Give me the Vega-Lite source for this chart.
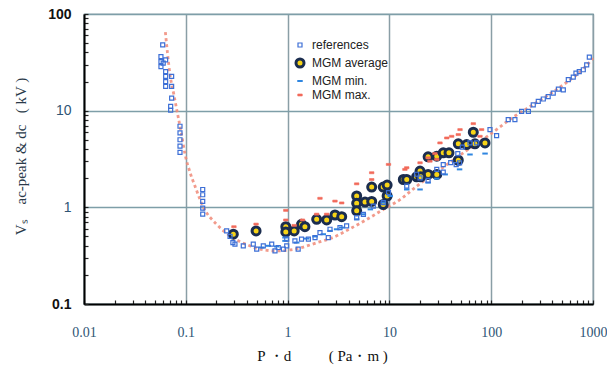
{
  "$schema": "https://vega.github.io/schema/vega-lite/v6.json",
  "width": 509,
  "height": 290,
  "autosize": {"type": "none"},
  "padding": {"left": 84, "top": 14, "right": 14, "bottom": 64},
  "background": "#ffffff",
  "config": {
    "view": {"stroke": "#4a6a78", "strokeWidth": 1.2},
    "axis": {"domainColor": "#000000", "domainWidth": 2, "tickColor": "#222222", "tickWidth": 1.2}
  },
  "datasets": {
    "curve": [
      {"x": 0.063, "y": 65}, {"x": 0.066, "y": 40}, {"x": 0.07, "y": 23.5}, {"x": 0.076, "y": 15},
      {"x": 0.082, "y": 9.9}, {"x": 0.09, "y": 6}, {"x": 0.098, "y": 3.6}, {"x": 0.11, "y": 2.3},
      {"x": 0.123, "y": 1.66}, {"x": 0.149, "y": 1.0}, {"x": 0.2, "y": 0.67}, {"x": 0.27, "y": 0.51},
      {"x": 0.4, "y": 0.41}, {"x": 0.53, "y": 0.37}, {"x": 0.78, "y": 0.354}, {"x": 1.0, "y": 0.36},
      {"x": 1.32, "y": 0.38}, {"x": 1.93, "y": 0.43}, {"x": 2.82, "y": 0.49}, {"x": 4.1, "y": 0.6},
      {"x": 6, "y": 0.75}, {"x": 8.7, "y": 0.95}, {"x": 12.7, "y": 1.2}, {"x": 18.5, "y": 1.65},
      {"x": 27, "y": 2.2}, {"x": 39, "y": 2.9}, {"x": 60, "y": 4.0}, {"x": 97, "y": 5.66},
      {"x": 160, "y": 8.4}, {"x": 250, "y": 11.3}, {"x": 400, "y": 15.5}, {"x": 600, "y": 21},
      {"x": 800, "y": 27}, {"x": 1000, "y": 35}
    ],
    "pts": [
      {"s": "references", "x": 0.0593, "y": 47.9}, {"s": "references", "x": 0.057, "y": 36.3},
      {"s": "references", "x": 0.057, "y": 32.2}, {"s": "references", "x": 0.057, "y": 28.6},
      {"s": "references", "x": 0.060, "y": 31}, {"s": "references", "x": 0.0634, "y": 33.6},
      {"s": "references", "x": 0.0634, "y": 25.4}, {"s": "references", "x": 0.0634, "y": 22.6},
      {"s": "references", "x": 0.0634, "y": 20}, {"s": "references", "x": 0.0634, "y": 17.8},
      {"s": "references", "x": 0.0726, "y": 22.6}, {"s": "references", "x": 0.0726, "y": 17.8},
      {"s": "references", "x": 0.0726, "y": 13.5}, {"s": "references", "x": 0.071, "y": 11.1},
      {"s": "references", "x": 0.071, "y": 10.1}, {"s": "references", "x": 0.0877, "y": 6.9},
      {"s": "references", "x": 0.0877, "y": 5.9}, {"s": "references", "x": 0.0877, "y": 5.0},
      {"s": "references", "x": 0.0877, "y": 4.3}, {"s": "references", "x": 0.0877, "y": 3.7},
      {"s": "references", "x": 0.1466, "y": 1.53}, {"s": "references", "x": 0.1466, "y": 1.35},
      {"s": "references", "x": 0.1466, "y": 1.15}, {"s": "references", "x": 0.1466, "y": 0.98},
      {"s": "references", "x": 0.1466, "y": 0.85}, {"s": "references", "x": 0.252, "y": 0.57},
      {"s": "references", "x": 0.272, "y": 0.5}, {"s": "references", "x": 0.304, "y": 0.416},
      {"s": "references", "x": 0.367, "y": 0.4}, {"s": "references", "x": 0.29, "y": 0.432},
      {"s": "references", "x": 0.46, "y": 0.416}, {"s": "references", "x": 0.497, "y": 0.369},
      {"s": "references", "x": 0.577, "y": 0.4}, {"s": "references", "x": 0.698, "y": 0.416},
      {"s": "references", "x": 0.752, "y": 0.354}, {"s": "references", "x": 0.81, "y": 0.384},
      {"s": "references", "x": 0.91, "y": 0.369}, {"s": "references", "x": 0.98, "y": 0.4},
      {"s": "references", "x": 0.98, "y": 0.468}, {"s": "references", "x": 1.18, "y": 0.45},
      {"s": "references", "x": 1.27, "y": 0.369}, {"s": "references", "x": 1.37, "y": 0.468},
      {"s": "references", "x": 1.6, "y": 0.468}, {"s": "references", "x": 1.86, "y": 0.487},
      {"s": "references", "x": 2.08, "y": 0.548}, {"s": "references", "x": 2.51, "y": 0.487},
      {"s": "references", "x": 2.61, "y": 0.593}, {"s": "references", "x": 3.27, "y": 0.618},
      {"s": "references", "x": 3.8, "y": 0.642}, {"s": "references", "x": 4.77, "y": 0.784},
      {"s": "references", "x": 5.55, "y": 0.847}, {"s": "references", "x": 6.95, "y": 1.03},
      {"s": "references", "x": 8.71, "y": 1.12}, {"s": "references", "x": 9.8, "y": 1.42},
      {"s": "references", "x": 14.8, "y": 1.66}, {"s": "references", "x": 20, "y": 2.02},
      {"s": "references", "x": 18.5, "y": 2.2}, {"s": "references", "x": 24, "y": 1.9},
      {"s": "references", "x": 29.2, "y": 2.47}, {"s": "references", "x": 33.8, "y": 2.77},
      {"s": "references", "x": 33.8, "y": 2.31}, {"s": "references", "x": 40, "y": 2.9},
      {"s": "references", "x": 45.3, "y": 2.77}, {"s": "references", "x": 48.9, "y": 2.89},
      {"s": "references", "x": 47, "y": 3.6}, {"s": "references", "x": 52, "y": 4.2},
      {"s": "references", "x": 61.9, "y": 4.64}, {"s": "references", "x": 72, "y": 4.64},
      {"s": "references", "x": 97.3, "y": 6.37}, {"s": "references", "x": 113, "y": 5.53},
      {"s": "references", "x": 147, "y": 8.08}, {"s": "references", "x": 171, "y": 8.08},
      {"s": "references", "x": 199, "y": 9.84}, {"s": "references", "x": 232, "y": 9.84},
      {"s": "references", "x": 259, "y": 11.5}, {"s": "references", "x": 290, "y": 12.5},
      {"s": "references", "x": 325, "y": 13.2}, {"s": "references", "x": 363, "y": 14},
      {"s": "references", "x": 407, "y": 15.2}, {"s": "references", "x": 457, "y": 16.7},
      {"s": "references", "x": 511, "y": 16.4}, {"s": "references", "x": 572, "y": 20.9},
      {"s": "references", "x": 640, "y": 22.2}, {"s": "references", "x": 680, "y": 24.5},
      {"s": "references", "x": 733, "y": 25.4}, {"s": "references", "x": 803, "y": 26.5},
      {"s": "references", "x": 867, "y": 29.8}, {"s": "references", "x": 920, "y": 35.8},
      {"s": "MGM max.", "x": 0.297, "y": 0.63}, {"s": "MGM max.", "x": 0.49, "y": 0.67},
      {"s": "MGM max.", "x": 0.96, "y": 0.93}, {"s": "MGM max.", "x": 0.96, "y": 0.74},
      {"s": "MGM max.", "x": 1.16, "y": 0.65}, {"s": "MGM max.", "x": 1.4, "y": 0.74},
      {"s": "MGM max.", "x": 2.08, "y": 1.24}, {"s": "MGM max.", "x": 1.93, "y": 0.85},
      {"s": "MGM max.", "x": 2.42, "y": 0.85}, {"s": "MGM max.", "x": 2.92, "y": 1.16},
      {"s": "MGM max.", "x": 3.4, "y": 1.11}, {"s": "MGM max.", "x": 4.77, "y": 1.75},
      {"s": "MGM max.", "x": 6.7, "y": 1.94}, {"s": "MGM max.", "x": 9.8, "y": 2.78},
      {"s": "MGM max.", "x": 6.7, "y": 2.28}, {"s": "MGM max.", "x": 14.8, "y": 2.57},
      {"s": "MGM max.", "x": 20, "y": 2.89}, {"s": "MGM max.", "x": 24, "y": 3.25},
      {"s": "MGM max.", "x": 28, "y": 3.6}, {"s": "MGM max.", "x": 14.2, "y": 2.47},
      {"s": "MGM max.", "x": 25, "y": 3.0}, {"s": "MGM max.", "x": 29.2, "y": 3.13},
      {"s": "MGM max.", "x": 31.4, "y": 4.64}, {"s": "MGM max.", "x": 36.6, "y": 5.22},
      {"s": "MGM max.", "x": 40.9, "y": 5.43}, {"s": "MGM max.", "x": 47.5, "y": 5.66},
      {"s": "MGM max.", "x": 49.4, "y": 6.37}, {"s": "MGM max.", "x": 66.7, "y": 7.34},
      {"s": "MGM max.", "x": 77.6, "y": 5.43}, {"s": "MGM max.", "x": 80.5, "y": 6.37},
      {"s": "MGM min.", "x": 0.557, "y": 0.384}, {"s": "MGM min.", "x": 0.647, "y": 0.4},
      {"s": "MGM min.", "x": 0.781, "y": 0.394}, {"s": "MGM min.", "x": 0.943, "y": 0.487},
      {"s": "MGM min.", "x": 0.943, "y": 0.45}, {"s": "MGM min.", "x": 1.23, "y": 0.432},
      {"s": "MGM min.", "x": 1.54, "y": 0.475}, {"s": "MGM min.", "x": 1.86, "y": 0.5},
      {"s": "MGM min.", "x": 2.24, "y": 0.527}, {"s": "MGM min.", "x": 2.61, "y": 0.57},
      {"s": "MGM min.", "x": 3.03, "y": 0.593}, {"s": "MGM min.", "x": 3.4, "y": 0.617},
      {"s": "MGM min.", "x": 4.77, "y": 0.752}, {"s": "MGM min.", "x": 5.55, "y": 0.847},
      {"s": "MGM min.", "x": 6.5, "y": 0.953}, {"s": "MGM min.", "x": 8.71, "y": 1.12},
      {"s": "MGM min.", "x": 10.2, "y": 1.31}, {"s": "MGM min.", "x": 14.8, "y": 1.53},
      {"s": "MGM min.", "x": 20, "y": 1.53}, {"s": "MGM min.", "x": 24, "y": 1.8},
      {"s": "MGM min.", "x": 29.2, "y": 1.98}, {"s": "MGM min.", "x": 35.3, "y": 2.19},
      {"s": "MGM min.", "x": 48.9, "y": 2.47}, {"s": "MGM min.", "x": 61.9, "y": 3.52},
      {"s": "MGM min.", "x": 87, "y": 3.6},
      {"s": "MGM average", "x": 0.293, "y": 0.527}, {"s": "MGM average", "x": 0.49, "y": 0.57},
      {"s": "MGM average", "x": 0.96, "y": 0.63}, {"s": "MGM average", "x": 0.96, "y": 0.556},
      {"s": "MGM average", "x": 1.16, "y": 0.57}, {"s": "MGM average", "x": 1.37, "y": 0.668},
      {"s": "MGM average", "x": 1.48, "y": 0.63}, {"s": "MGM average", "x": 1.93, "y": 0.752},
      {"s": "MGM average", "x": 2.42, "y": 0.74}, {"s": "MGM average", "x": 2.92, "y": 0.833},
      {"s": "MGM average", "x": 3.4, "y": 0.8}, {"s": "MGM average", "x": 4.77, "y": 1.31},
      {"s": "MGM average", "x": 4.77, "y": 1.1}, {"s": "MGM average", "x": 4.77, "y": 0.92},
      {"s": "MGM average", "x": 5.76, "y": 1.135}, {"s": "MGM average", "x": 6.7, "y": 1.15},
      {"s": "MGM average", "x": 6.7, "y": 1.62}, {"s": "MGM average", "x": 8.7, "y": 1.62},
      {"s": "MGM average", "x": 9.5, "y": 1.7}, {"s": "MGM average", "x": 9.5, "y": 1.31},
      {"s": "MGM average", "x": 8.7, "y": 1.07}, {"s": "MGM average", "x": 13.7, "y": 1.94},
      {"s": "MGM average", "x": 14.8, "y": 1.94}, {"s": "MGM average", "x": 20, "y": 2.19},
      {"s": "MGM average", "x": 24, "y": 2.19}, {"s": "MGM average", "x": 29.2, "y": 2.19},
      {"s": "MGM average", "x": 18.5, "y": 2.07}, {"s": "MGM average", "x": 20, "y": 2.37},
      {"s": "MGM average", "x": 20.3, "y": 2.07}, {"s": "MGM average", "x": 24, "y": 3.33},
      {"s": "MGM average", "x": 29.2, "y": 3.38}, {"s": "MGM average", "x": 33.8, "y": 3.66},
      {"s": "MGM average", "x": 38.5, "y": 3.66}, {"s": "MGM average", "x": 47.5, "y": 4.54},
      {"s": "MGM average", "x": 57.4, "y": 4.46}, {"s": "MGM average", "x": 69.2, "y": 4.54},
      {"s": "MGM average", "x": 66.7, "y": 5.98}, {"s": "MGM average", "x": 47.5, "y": 3.07},
      {"s": "MGM average", "x": 86.9, "y": 4.64}
    ]
  },
  "layer": [
    {
      "data": {"name": "curve"},
      "mark": {"type": "line", "color": "#f08a78", "strokeWidth": 2.8, "strokeDash": [3, 3], "interpolate": "monotone", "opacity": 0.85},
      "encoding": {
        "x": {
          "field": "x", "type": "quantitative",
          "scale": {"type": "log", "domain": [0.01, 1000], "nice": false},
          "axis": {
            "values": [0.01,0.02,0.03,0.04,0.05,0.06,0.07,0.08,0.09,0.1,0.2,0.3,0.4,0.5,0.6,0.7,0.8,0.9,1,2,3,4,5,6,7,8,9,10,20,30,40,50,60,70,80,90,100,200,300,400,500,600,700,800,900,1000],
            "format": "~g",
            "labelExpr": "abs(log(datum.value)/LN10 - round(log(datum.value)/LN10)) < 1e-6 ? datum.label : ''",
            "grid": true,
            "gridColor": "#8a9ea6",
            "gridWidth": 1.5,
            "gridOpacity": {"condition": {"test": "abs(log(datum.value)/LN10 - round(log(datum.value)/LN10)) < 1e-6", "value": 1}, "value": 0},
            "tickSize": -4,
            "labelPadding": 25,
            "labelFont": "Liberation Serif",
            "labelFontSize": 14,
            "labelColor": "#2f5575",
            "labelFlush": false,
            "title": "P \u30fbd\u2003\u2003\u00a0\u00a0( Pa\u30fbm )",
            "titleFont": "Liberation Serif",
            "titleFontSize": 15,
            "titleFontWeight": "normal",
            "titleColor": "#111111",
            "titleX": 238,
            "titleAlign": "center",
            "titleY": 51,
            "titleBaseline": "middle"
          }
        },
        "y": {
          "field": "y", "type": "quantitative",
          "scale": {"type": "log", "domain": [0.1, 100], "nice": false},
          "axis": {
            "values": [0.1,0.2,0.3,0.4,0.5,0.6,0.7,0.8,0.9,1,2,3,4,5,6,7,8,9,10,20,30,40,50,60,70,80,90,100],
            "format": "~g",
            "labelExpr": "abs(log(datum.value)/LN10 - round(log(datum.value)/LN10)) < 1e-6 ? datum.label : ''",
            "grid": true,
            "gridColor": "#7e9ea8",
            "gridWidth": 1.5,
            "gridOpacity": {"condition": {"test": "abs(log(datum.value)/LN10 - round(log(datum.value)/LN10)) < 1e-6", "value": 1}, "value": 0},
            "tickSize": -4,
            "labelPadding": 17,
            "labelFont": "Liberation Sans",
            "labelFontSize": 14,
            "labelFontWeight": {"condition": {"test": "datum.value == 10 || datum.value == 1", "value": "normal"}, "value": "bold"},
            "labelColor": {"condition": {"test": "datum.value == 10 || datum.value == 1", "value": "#2f5575"}, "value": "#111111"},
            "title": "V\u209b\u2003ac-peak & dc\u00a0\u00a0\u00a0( kV )",
            "titleFont": "Liberation Serif",
            "titleFontSize": 15,
            "titleFontWeight": "normal",
            "titleColor": "#2a3a4a",
            "titleX": -64,
            "titleY": 142,
            "titleAngle": -90,
            "titleAlign": "center",
            "titleBaseline": "middle"
          }
        }
      }
    },
    {
      "data": {"name": "pts"},
      "mark": {"type": "point", "filled": true, "opacity": 1},
      "encoding": {
        "x": {"field": "x", "type": "quantitative"},
        "y": {"field": "y", "type": "quantitative"},
        "shape": {
          "field": "s", "type": "nominal",
          "scale": {"domain": ["references", "MGM average", "MGM min.", "MGM max."], "range": ["square", "circle", "M-1,0L1,0", "M-1,-0.45L1,-0.45L1,0.45L-1,0.45Z"]},
          "legend": {
            "title": null, "orient": "none", "legendX": 210, "legendY": 25,
            "labelFont": "Liberation Sans", "labelFontSize": 12, "labelColor": "#222222",
            "rowPadding": 2, "symbolOffset": 0, "labelOffset": 6
          }
        },
        "fill": {
          "field": "s", "type": "nominal",
          "scale": {"domain": ["references", "MGM average", "MGM min.", "MGM max."], "range": ["transparent", "#f7d417", "transparent", "#f26a5a"]},
          "legend": {"title": null}
        },
        "stroke": {
          "field": "s", "type": "nominal",
          "scale": {"domain": ["references", "MGM average", "MGM min.", "MGM max."], "range": ["#3d6fd6", "#1b2d4f", "#2f86e0", "#f26a5a"]},
          "legend": {"title": null}
        },
        "size": {
          "field": "s", "type": "nominal",
          "scale": {"type": "ordinal", "domain": ["references", "MGM average", "MGM min.", "MGM max."], "range": [16, 64, 30, 20]},
          "legend": {"title": null}
        },
        "strokeWidth": {
          "field": "s", "type": "nominal",
          "scale": {"type": "ordinal", "domain": ["references", "MGM average", "MGM min.", "MGM max."], "range": [1.2, 3, 2, 0.6]},
          "legend": {"title": null}
        },
        "order": {"field": "s", "type": "nominal"}
      }
    }
  ]
}
